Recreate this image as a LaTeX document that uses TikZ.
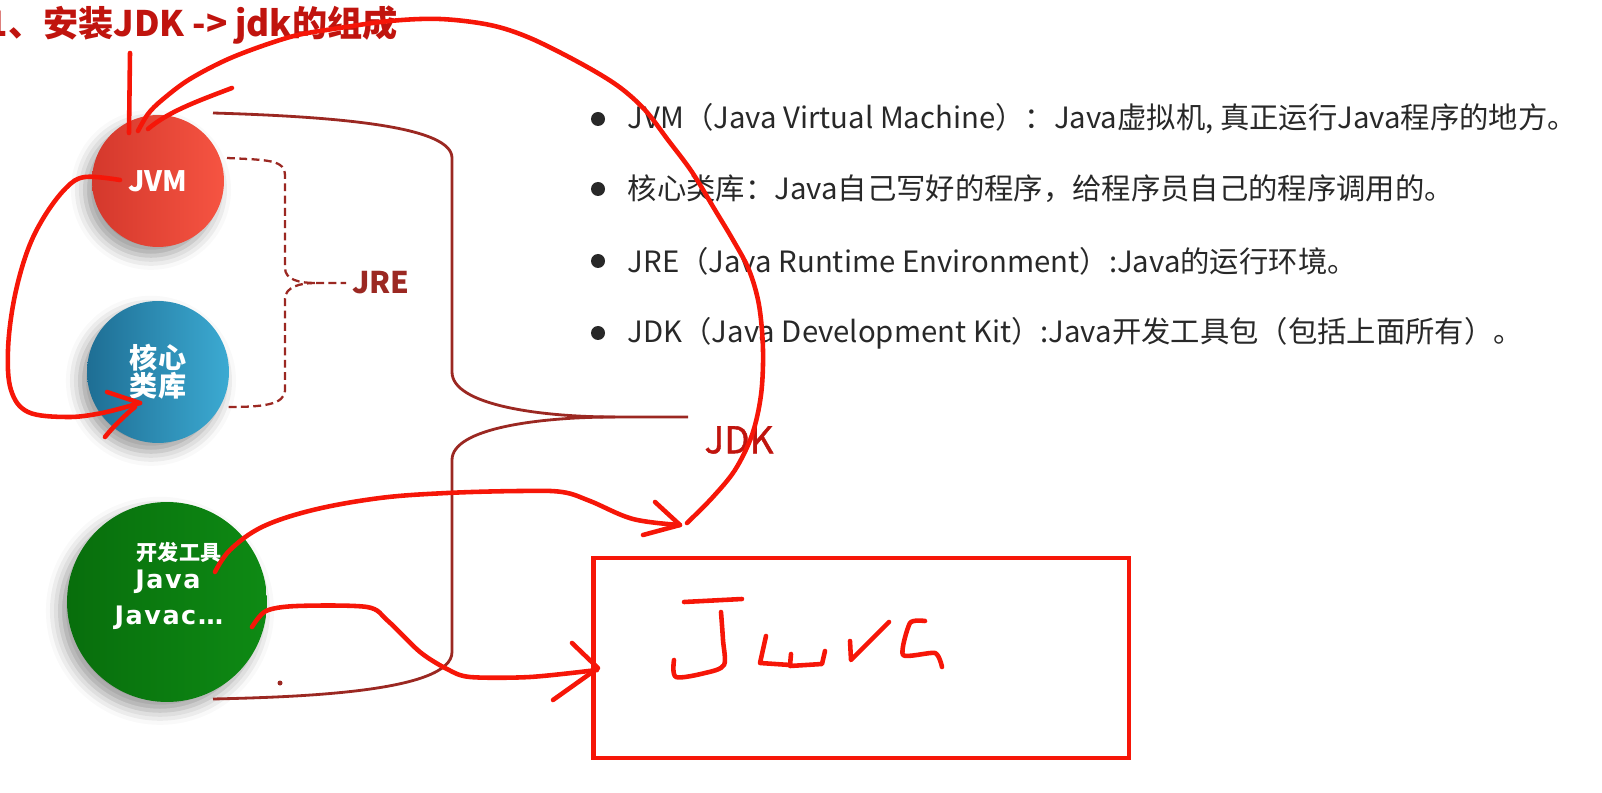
\documentclass[tikz,border=0pt]{standalone}
\usepackage{fontspec}
\setmainfont{Noto Sans CJK SC}
\newfontfamily\dejavu{DejaVu Sans}[LetterSpace=6]
\newfontfamily\medfont{Noto Sans CJK SC}[FakeBold=1.2]
\usetikzlibrary{positioning,shadows.blur}
\definecolor{penred}{RGB}{246,22,8}
\definecolor{bracered}{RGB}{155,40,34}
\definecolor{titlered}{RGB}{192,20,14}
\definecolor{jvmdark}{RGB}{212,56,44}
\definecolor{jvmlight}{RGB}{246,84,66}
\definecolor{libdark}{RGB}{30,110,148}
\definecolor{liblight}{RGB}{60,170,210}
\definecolor{tooldark}{RGB}{8,110,12}
\definecolor{toollight}{RGB}{14,138,20}
\definecolor{itemgray}{RGB}{40,40,40}
\tikzset{
  ball/.style={circle, inner sep=0pt, text=white, font=\bfseries\fontsize{16}{18}\selectfont,
    blur shadow={shadow xshift=-4pt, shadow yshift=-5pt, shadow blur radius=8pt, shadow opacity=40}},
  pen/.style={draw=penred, line width=2.6pt, line cap=round, line join=round},
  bracket/.style={draw=bracered, line width=1.6pt},
  jrebracket/.style={draw=bracered, line width=1.3pt, dash pattern=on 4.5pt off 2.5pt},
  itemdot/.style={circle, fill=itemgray, inner sep=0pt, minimum size=0.28cm},
  itemtext/.style={inner sep=0pt, text=itemgray, font=\fontsize{16.7}{18}\selectfont, right=0.44cm of #1},
}
\begin{document}
\begin{tikzpicture}[x=0.02cm, y=-0.02cm]
\useasboundingbox (0,0) rectangle (1602,793);

\node[anchor=east, inner sep=0pt, text=titlered, font=\bfseries\fontsize{20}{23}\selectfont] (title) at (398,25) {1、安装JDK -> jdk的组成};

\node[ball, minimum size=2.64cm, left color=jvmdark, right color=jvmlight] (jvm) at (158,181) {JVM};
\node[ball, minimum size=2.84cm, left color=libdark, right color=liblight, align=center] (lib) at (158,372) {核心\\[-2pt]类库};
\node[ball, minimum size=4cm, left color=tooldark, right color=toollight] (tool) at (167,602) {};
\node[text=white, font=\bfseries\fontsize{12}{14}\selectfont] (toolname) at (179,552) {开发工具};
\node[text=white, font=\dejavu\bfseries\fontsize{14.5}{16}\selectfont] (java) at (168,582) {Java};
\node[text=white, font=\dejavu\bfseries\fontsize{14.5}{16}\selectfont] (javac) at (169,618) {Javac…};
\node[circle, fill=bracered, inner sep=0pt, minimum size=0.1cm] (spot) at (280,683) {};

\node[text=bracered, font=\bfseries\fontsize{17}{20}\selectfont] (jre) at (381,283) {JRE};
\draw[jrebracket] (227,158) .. controls (270,160) and (285,160) .. (285,176) -- (285,268)
  .. controls (285,280) and (300,283) .. (315,283) -- (jre.west);
\draw[jrebracket] (315,283) .. controls (300,283) and (285,287) .. (285,299) -- (285,390)
  .. controls (285,405) and (262,407) .. (228,407);

\coordinate (jdktip) at (688,417);
\node[text=titlered, font=\medfont\fontsize{21}{24}\selectfont] (jdk) at (739,440) {JDK};
\draw[bracket] (213,113) .. controls (350,117) and (452,128) .. (452,158) -- (452,372)
  .. controls (452,405) and (540,417) .. (615,417) -- (jdktip);
\draw[bracket] (615,417) .. controls (540,417) and (452,428) .. (452,460) -- (452,652)
  .. controls (452,692) and (300,697) .. (213,699);

\node[itemdot] (d1) at (598,119) {};
\node[itemtext=d1] (t1) {JVM（Java Virtual Machine）：Java虚拟机, 真正运行Java程序的地方。};
\node[itemdot] (d2) at (598,189) {};
\node[itemtext=d2] (t2) {核心类库：Java自己写好的程序，给程序员自己的程序调用的。};
\node[itemdot] (d3) at (598,261) {};
\node[itemtext=d3] (t3) {JRE（Java Runtime Environment）:Java的运行环境。};
\node[itemdot] (d4) at (598,333) {};
\node[itemtext=d4] (t4) {JDK（Java Development Kit）:Java开发工具包（包括上面所有）。};

\node[draw=penred, line width=2.8pt, minimum width=10.72cm, minimum height=4cm, inner sep=0pt] (jbox) at (861,658) {};

\draw[pen] (130,53) -- (129,133);
\draw[pen] plot[smooth, tension=0.55] coordinates {(687,523) (712,498) (735,470) (752,435) (761,395)
  (763,350) (759,305) (749,270) (733,240) (715,210) (692,172) (668,140) (645,110) (618,86) (580,63)
  (530,38) (490,25) (440,19) (390,21) (333,29) (290,37) (233,57) (190,79) (162,100) (148,114) (138,131)};
\draw[pen] (232,88) .. controls (195,102) and (168,112) .. (148,129);

\draw[pen] plot[smooth, tension=0.6] coordinates {(120,180) (85,177) (66,188) (44,217) (27,252)
  (14,300) (8,350) (11,390) (28,412) (67,417) (102,413) (140,403)};
\draw[pen] (107,392) -- (140,403);
\draw[pen] (105,437) .. controls (112,428) and (125,415) .. (135,407);

\draw[pen] plot[smooth, tension=0.6] coordinates {(215,572) (230,550) (262,527) (313,510) (380,498)
  (447,493) (520,491) (562,492) (590,501) (633,519) (680,525)};
\draw[pen] (655,502) -- (680,525) -- (643,535);

\draw[pen] plot[smooth, tension=0.5] coordinates {(252,627) (266,611) (297,606) (367,607) (388,621)
  (420,652) (447,669) (470,677) (530,677) (597,670)};
\draw[pen] (572,643) -- (598,668) -- (553,700);

\draw[pen] (684,602) -- (742,599);
\draw[pen] plot[smooth, tension=0.5] coordinates {(721,612) (723,640) (724,665) (705,673) (676,677) (674,660)};
\draw[pen] (766,636) -- (760,663) -- (790,665) -- (791,654) -- (790,666) -- (822,664) -- (825,651);
\draw[pen] (850,641) -- (851,660) -- (889,622);
\draw[pen] plot[smooth, tension=0.4] coordinates {(925,621) (910,623) (903,655) (935,653) (942,667)};
\end{tikzpicture}
\end{document}
